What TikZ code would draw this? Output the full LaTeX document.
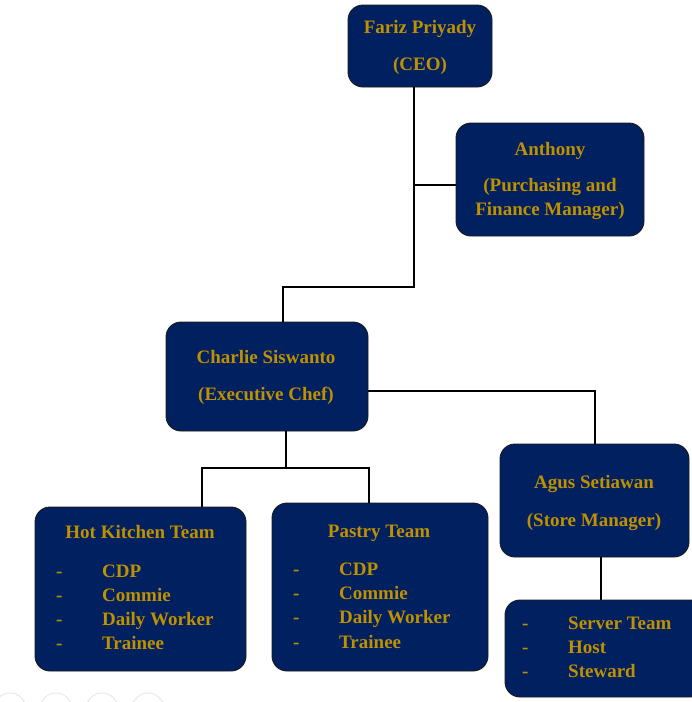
\documentclass[tikz,border=0pt]{standalone}
\usepackage{fontspec}
\setmainfont{Liberation Serif}
\definecolor{navy}{HTML}{002060}
\definecolor{gold}{HTML}{BF9000}
\definecolor{edge}{HTML}{1A1A1A}
\tikzset{
  box/.style={draw=edge, line width=0.9pt, fill=navy, rounded corners=15pt, inner sep=0pt},
  txt/.style={text=gold, font=\fontsize{19}{22}\selectfont\bfseries, inner sep=0pt, anchor=base},
  itm/.style={txt, anchor=base west},
  conn/.style={draw=black, line width=2pt}
}
\begin{document}
\begin{tikzpicture}[x=1pt,y=-1pt]
\useasboundingbox (0,0) rectangle (692,702);
\clip (0,0) rectangle (692,702);
% faint UI circles
\foreach \cx in {10,56,102,148} \draw[gray!18, line width=1pt] (\cx,709) circle (16);
% boxes
\node[box, minimum width=144pt, minimum height=82pt] (ceo) at (420,46) {};
\node[box, minimum width=188pt, minimum height=113pt] (anth) at (550,179.5) {};
\node[box, minimum width=202pt, minimum height=109pt] (chef) at (267,376.5) {};
\node[box, minimum width=189pt, minimum height=113pt] (agus) at (594.5,500.5) {};
\node[box, minimum width=211pt, minimum height=164pt] (hk) at (140.5,589) {};
\node[box, minimum width=216pt, minimum height=168pt] (pas) at (380,587) {};
\node[box, minimum width=200pt, minimum height=97pt] (srv) at (605,648.5) {};
% connectors
\coordinate (t1) at (414,185);
\coordinate (j1) at (414,287);
\coordinate (j2) at (283,287);
\coordinate (j3) at (595,391);
\coordinate (j4) at (286,468);
\coordinate (j5) at (202,468);
\coordinate (j6) at (369,468);
\coordinate (j7) at (601,580);
\draw[conn] (ceo.south -| j1) -- (j1) -- (j2) -- (chef.north -| j2);
\draw[conn] (anth.west |- t1) -- (t1);
\draw[conn] (chef.east |- j3) -- (j3) -- (agus.north -| j3);
\draw[conn] (chef.south -| j4) -- (j4);
\draw[conn] (hk.north -| j5) -- (j5) -- (j6) -- (pas.north -| j6);
\draw[conn] (agus.south -| j7) -- (srv.north -| j7);
% texts
\node[txt] (ceo1) at (420,33) {Fariz Priyady};
\node[txt] (ceo2) at (420,70) {(CEO)};
\node[txt] (an1) at (550,155) {Anthony};
\node[txt] (an2) at (550,191) {(Purchasing and};
\node[txt] (an3) at (550,215) {Finance Manager)};
\node[txt] (ch1) at (266,363) {Charlie Siswanto};
\node[txt] (ch2) at (266,400) {(Executive Chef)};
\node[txt] (ag1) at (594,488) {Agus Setiawan};
\node[txt] (ag2) at (594,526) {(Store Manager)};
\node[txt] (hkt) at (140,538) {Hot Kitchen Team};
\node[txt] (pat) at (379,537) {Pastry Team};
% hot kitchen list
\foreach \yy/\w [count=\i] in {577/CDP,601/Commie,625/Daily Worker,649/Trainee}{
  \node[itm] (hkd\i) at (56,\yy) {-};
  \node[itm] (hkw\i) at (102,\yy) {\w};
}
% pastry list
\foreach \yy/\w [count=\i] in {575/CDP,599/Commie,623/Daily Worker,648/Trainee}{
  \node[itm] (pad\i) at (293,\yy) {-};
  \node[itm] (paw\i) at (339,\yy) {\w};
}
% server list
\foreach \yy/\w [count=\i] in {629/Server Team,653/Host,677/Steward}{
  \node[itm] (svd\i) at (522,\yy) {-};
  \node[itm] (svw\i) at (568,\yy) {\w};
}
\end{tikzpicture}
\end{document}
